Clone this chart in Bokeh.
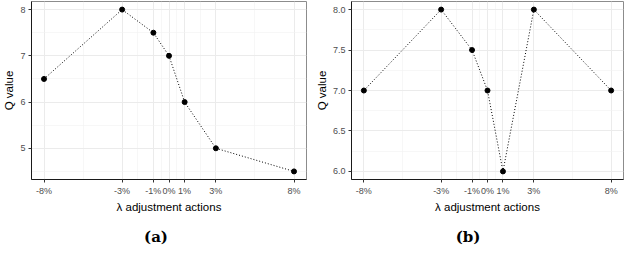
from bokeh.plotting import figure
from bokeh.layouts import row, column
from bokeh.models import Range1d, FixedTicker, Div
from bokeh.embed import file_html
from bokeh.resources import INLINE

# Data
x_actions = [-8, -3, -1, 0, 1, 3, 8]
x_labels = ["-8%", "-3%", "-1%", "0%", "1%", "3%", "8%"]
q_a = [6.5, 8.0, 7.5, 7.0, 6.0, 5.0, 4.5]
q_b = [7.0, 8.0, 7.5, 7.0, 6.0, 8.0, 7.0]
yticks_a = [5, 6, 7, 8]
ytick_labels_a = ["5", "6", "7", "8"]
yticks_b = [6.0, 6.5, 7.0, 7.5, 8.0]
ytick_labels_b = ["6.0", "6.5", "7.0", "7.5", "8.0"]
captions = ["(a)", "(b)"]

SANS = "Liberation Sans"
FIG_H = 215
CAP_H = 34


def midpoints(t):
    return [(t[i] + t[i + 1]) / 2 for i in range(len(t) - 1)]


def expand(vals, frac=0.05):
    lo, hi = min(vals), max(vals)
    d = (hi - lo) * frac
    return lo - d, hi + d


def make(q, yticks, ylabels, caption, width, left, right):
    x0, x1 = expand(x_actions)
    y0, y1 = expand(q)
    p = figure(width=width, height=FIG_H, output_backend="svg", toolbar_location=None,
               x_range=Range1d(x0, x1), y_range=Range1d(y0, y1),
               min_border_left=left, min_border_right=right, min_border_top=1,
               min_border_bottom=0)
    p.background_fill_color = "white"
    p.border_fill_color = "white"
    p.outline_line_color = "#8c8c8c"
    p.outline_line_width = 1

    xt = FixedTicker(ticks=x_actions, minor_ticks=midpoints(x_actions))
    ymin = midpoints(yticks)
    step = yticks[1] - yticks[0]
    ymin = [yticks[0] - step / 2] + ymin + [yticks[-1] + step / 2]
    yt = FixedTicker(ticks=yticks, minor_ticks=ymin)
    p.xaxis.ticker = xt
    p.yaxis.ticker = yt
    p.xaxis.major_label_overrides = {v: s for v, s in zip(x_actions, x_labels)}
    p.yaxis.major_label_overrides = {v: s for v, s in zip(yticks, ylabels)}

    for ax in (p.xaxis[0], p.yaxis[0]):
        ax.axis_line_color = "#1a1a1a"
        ax.axis_line_width = 1
        ax.major_tick_line_color = "#333333"
        ax.major_tick_out = 3
        ax.major_tick_in = 0
        ax.minor_tick_line_color = None
        ax.major_label_text_font = SANS
        ax.major_label_text_font_size = "9px"
        ax.major_label_text_color = "#4d4d4d"
        ax.major_label_standoff = 2
        ax.axis_label_text_font = SANS
        ax.axis_label_text_font_size = "11.5px"
        ax.axis_label_text_font_style = "normal"
        ax.axis_label_text_color = "black"
        ax.axis_label_standoff = 2

    p.xaxis.axis_label = "λ adjustment actions"
    p.yaxis.axis_label = "Q value"

    for g in (p.xgrid[0], p.ygrid[0]):
        g.grid_line_color = "#ebebeb"
        g.grid_line_width = 1
        g.minor_grid_line_color = "#f2f2f2"
        g.minor_grid_line_width = 0.6

    p.line(x_actions, q, line_color="black", line_width=1, line_dash="1 2")
    p.scatter(x_actions, q, size=5, fill_color="black", line_color="black")

    html = ('<div style="text-align:center;font-family:\'DejaVu Serif\',serif;'
            'font-size:15px;font-weight:bold;color:black;line-height:18px;'
            f'padding-top:13px;width:{width}px">{caption}</div>')
    cap = Div(text=html, width=width, height=CAP_H, margin=0)
    return column(p, cap, spacing=0)


pa = make(q_a, yticks_a, ytick_labels_a, captions[0], 312, 24, 6)
pb = make(q_b, yticks_b, ytick_labels_b, captions[1], 312, 38, 1)
layout = row(pa, pb, spacing=0)

open("out.html", "w").write(file_html(layout, INLINE))
